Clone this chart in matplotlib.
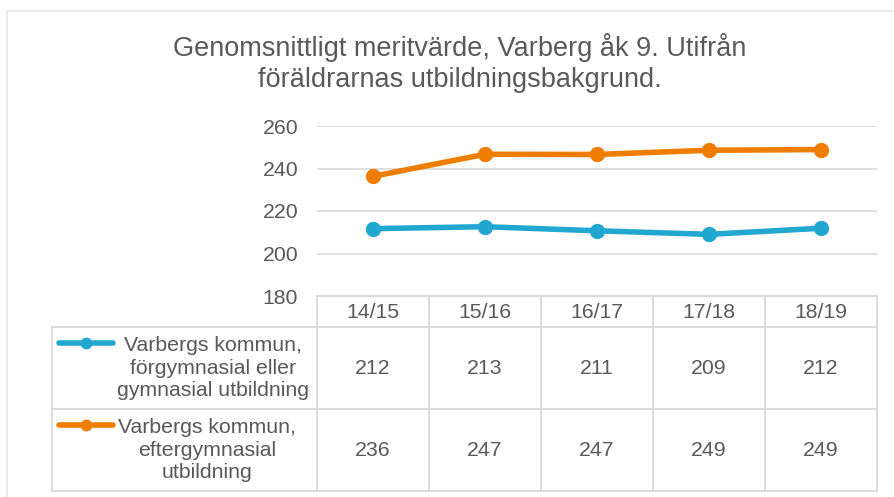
import matplotlib.pyplot as plt
from matplotlib.lines import Line2D
from matplotlib.patches import Rectangle

# data
years = ["14/15", "15/16", "16/17", "17/18", "18/19"]
pre_gymn = [211.7, 212.6, 210.7, 209.0, 211.9]
post_gymn = [236.3, 246.7, 246.6, 248.6, 248.9]
series_names = [
    "Varbergs kommun,\nförgymnasial eller\ngymnasial utbildning",
    "Varbergs kommun,\neftergymnasial\nutbildning",
]
title = "Genomsnittligt meritvärde, Varberg åk 9. Utifrån\nföräldrarnas utbildningsbakgrund."
yticks = [180, 200, 220, 240, 260]

W, H = 894, 497
BLUE = "#22A7D0"
ORANGE = "#EE7D00"
TEXT = "#595959"
GRID = "#D9D9D9"
FS = 15.3

plt.rcParams["font.family"] = ["Liberation Sans", "DejaVu Sans"]


def fx(px):
    return px / W


def fy(py):
    return 1 - py / H


fig = plt.figure(figsize=(W / 100, H / 100), dpi=100)

# outer chart border
fig.patches.append(Rectangle((fx(7), fy(600)), 2, fy(11) - fy(600), transform=fig.transFigure,
                             fill=False, edgecolor="#E4E6E9", linewidth=1.2))

fig.text(fx(460), fy(63), title, ha="center", va="center", fontsize=19.5,
         color=TEXT, linespacing=1.22)

left, right, top, bottom = 317, 877, 126, 296
ax = fig.add_axes([fx(left), fy(bottom), fx(right) - fx(left), fy(top) - fy(bottom)])
x = list(range(len(years)))
ax.plot(x, pre_gymn, color=BLUE, linewidth=4, marker="o", markersize=10, solid_capstyle="round")
ax.plot(x, post_gymn, color=ORANGE, linewidth=4, marker="o", markersize=10, solid_capstyle="round")
ax.set_xlim(-0.5, len(years) - 0.5)
ax.set_ylim(yticks[0], yticks[-1])
ax.set_yticks(yticks)
ax.set_xticks([])
ax.yaxis.grid(True, color=GRID, linewidth=1.2)
ax.set_axisbelow(True)
for s in ax.spines.values():
    s.set_visible(False)
ax.tick_params(axis="y", length=0, labelsize=FS, labelcolor=TEXT, pad=13.5)
ax.patch.set_alpha(0)

# data table
col_w = (right - left) / len(years)
row_tops = [296, 327, 409, 491]
tbl_left = 52
line_kw = dict(color=GRID, linewidth=1.3, transform=fig.transFigure)


def hline(x0, x1, y):
    fig.add_artist(Line2D([fx(x0), fx(x1)], [fy(y), fy(y)], **line_kw))


def vline(xp, y0, y1):
    fig.add_artist(Line2D([fx(xp), fx(xp)], [fy(y0), fy(y1)], **line_kw))


hline(left, right, row_tops[0])
for yp in row_tops[1:]:
    hline(tbl_left, right, yp)
vline(tbl_left, row_tops[1], row_tops[3])
for i in range(len(years) + 1):
    vline(left + i * col_w, row_tops[0], row_tops[3])

for i, yr in enumerate(years):
    cx = left + (i + 0.5) * col_w
    fig.text(fx(cx), fy(312), yr, ha="center", va="center", fontsize=FS, color=TEXT)
    for r, vals in enumerate([pre_gymn, post_gymn]):
        cy = (row_tops[r + 1] + row_tops[r + 2]) / 2
        fig.text(fx(cx), fy(cy), f"{round(vals[i])}", ha="center", va="center",
                 fontsize=FS, color=TEXT)

for r, (name, col) in enumerate(zip(series_names, [BLUE, ORANGE])):
    ly = row_tops[r + 1] + 16
    fig.add_artist(Line2D([fx(59), fx(113)], [fy(ly), fy(ly)], color=col, linewidth=4,
                          solid_capstyle="round", transform=fig.transFigure))
    fig.add_artist(Line2D([fx(86)], [fy(ly)], color=col, marker="o", markersize=7.5,
                          transform=fig.transFigure))
    cx = 213 if r == 0 else 207
    cy = (row_tops[r + 1] + row_tops[r + 2]) / 2
    fig.text(fx(cx), fy(cy), name, ha="center", va="center", fontsize=FS,
             color=TEXT, linespacing=1.26)

fig.savefig("out.png", dpi=100)
